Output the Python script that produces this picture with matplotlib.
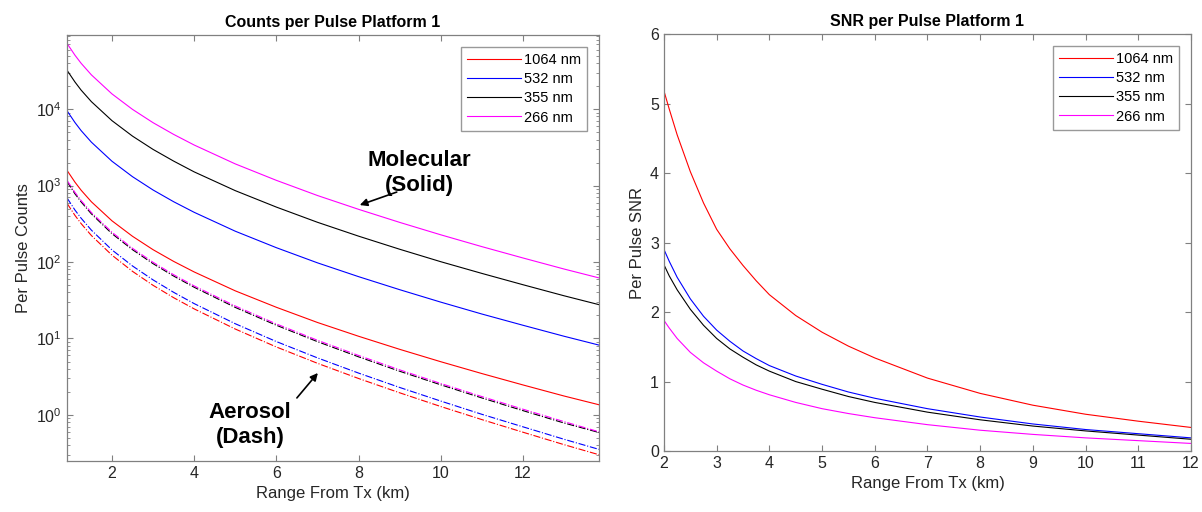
"""Counts and SNR per pulse for Platform 1, molecular vs aerosol returns."""

import matplotlib

matplotlib.use("Agg")
import matplotlib.pyplot as plt  # noqa: E402
from matplotlib.ticker import LogLocator, NullFormatter  # noqa: E402

plt.rcParams["font.family"] = ["Liberation Sans", "DejaVu Sans"]
plt.rcParams["mathtext.fontset"] = "custom"
plt.rcParams["mathtext.rm"] = "Liberation Sans"

# --- left panel: counts per pulse vs range (km) ---
range_km = [0.905, 1.1, 1.25, 1.5, 2, 2.5, 3, 3.5, 4, 5, 6, 7, 8, 9, 10, 11, 12, 13, 13.85]

mol_266 = [72400, 50600, 39700, 28000, 15800, 9910, 6640, 4670, 3390, 1920, 1170,
           741, 489, 330, 227, 159, 113, 81, 62]
mol_355 = [32300, 22600, 17700, 12500, 7060, 4430, 2970, 2090, 1510, 858, 523,
           331, 218, 147, 101, 71, 50.5, 36.2, 27.7]
mol_532 = [9540, 6670, 5230, 3690, 2080, 1306, 875, 615, 447, 253, 154,
           97.6, 64.4, 43.5, 29.9, 20.9, 14.9, 10.7, 8.2]
mol_1064 = [1584, 1107, 869, 613, 346, 217, 145, 102, 74.2, 42.0, 25.6,
            16.2, 10.7, 7.22, 4.97, 3.48, 2.47, 1.77, 1.36]

aer_266 = [1175, 813, 636, 444, 245, 151, 99.2, 68.3, 48.7, 26.6, 15.5,
           9.48, 6.0, 3.89, 2.58, 1.74, 1.19, 0.818, 0.603]
aer_355 = [1130, 780, 611, 426, 235, 145, 95.2, 65.6, 46.8, 25.5, 14.9,
           9.1, 5.76, 3.73, 2.48, 1.67, 1.14, 0.785, 0.59]
aer_532 = [691, 478, 374, 261, 144, 88.8, 58.4, 40.2, 28.6, 15.6, 9.12,
           5.58, 3.53, 2.29, 1.52, 1.02, 0.70, 0.481, 0.355]
aer_1064 = [588, 407, 318, 222, 123, 75.5, 49.6, 34.2, 24.4, 13.3, 7.75,
            4.74, 3.0, 1.95, 1.29, 0.87, 0.595, 0.409, 0.302]

# --- right panel: SNR per pulse vs range (km) ---
snr_range_km = [2, 2.1, 2.25, 2.5, 2.75, 3, 3.25, 3.5, 3.75, 4, 4.5, 5, 5.5, 6,
                7, 8, 9, 10, 11, 12]
snr_1064 = [5.18, 4.92, 4.55, 4.02, 3.57, 3.19, 2.91, 2.67, 2.45, 2.25, 1.95, 1.71,
            1.51, 1.34, 1.05, 0.83, 0.66, 0.53, 0.43, 0.34]
snr_532 = [2.9, 2.73, 2.5, 2.19, 1.94, 1.74, 1.58, 1.44, 1.33, 1.23, 1.08, 0.96,
           0.85, 0.76, 0.61, 0.49, 0.39, 0.31, 0.25, 0.19]
snr_355 = [2.68, 2.52, 2.32, 2.04, 1.81, 1.62, 1.47, 1.35, 1.24, 1.15, 1.00, 0.89,
           0.785, 0.70, 0.56, 0.45, 0.36, 0.29, 0.23, 0.17]
snr_266 = [1.88, 1.77, 1.62, 1.42, 1.27, 1.15, 1.04, 0.95, 0.875, 0.81, 0.70, 0.61,
           0.54, 0.48, 0.38, 0.30, 0.24, 0.19, 0.15, 0.11]

labels = ["1064 nm", "532 nm", "355 nm", "266 nm"]
colors = ["#ff0000", "#0000ff", "#000000", "#ff00ff"]
AXIS_GREY = "#262626"
LW = 0.8


def style_axes(ax):
    for side in ax.spines.values():
        side.set_color("#808080")
        side.set_linewidth(0.9)
    ax.tick_params(which="both", direction="in", top=True, right=True,
                   colors="#808080", labelcolor=AXIS_GREY, labelsize=11.5)
    ax.tick_params(which="major", length=4)
    ax.tick_params(which="minor", length=2)


def add_legend(ax):
    ax.legend(loc="upper right", fontsize=10.5, handlelength=3.7, handletextpad=0.15,
              frameon=True, fancybox=False, edgecolor="#808080", borderaxespad=0.8,
              labelspacing=0.35, borderpad=0.45)


fig = plt.figure(figsize=(12.02, 5.12), dpi=100)

# left panel
ax1 = fig.add_axes([0.0557, 0.0996, 0.4426, 0.832])
mol = [mol_1064, mol_532, mol_355, mol_266]
aer = [aer_1064, aer_532, aer_355, aer_266]
for vals, c, lab in zip(mol, colors, labels):
    ax1.plot(range_km, vals, color=c, lw=LW, label=lab)
for vals, c in zip(aer, colors):
    ax1.plot(range_km, vals, color=c, lw=LW, ls="-.")
ax1.set_yscale("log")
ax1.set_xlim(0.905, 13.85)
ax1.set_ylim(0.25, 9.3e4)
ax1.set_xticks([2, 4, 6, 8, 10, 12])
ax1.yaxis.set_major_locator(LogLocator(base=10, numticks=10))
ax1.yaxis.set_minor_locator(LogLocator(base=10, subs=range(2, 10), numticks=20))
ax1.yaxis.set_minor_formatter(NullFormatter())
style_axes(ax1)
ax1.set_xlabel("Range From Tx (km)", fontsize=12, color=AXIS_GREY)
ax1.set_ylabel("Per Pulse Counts", fontsize=12, color=AXIS_GREY)
ax1.set_title("Counts per Pulse Platform 1", fontsize=11.5, fontweight="bold", pad=6)
add_legend(ax1)

arrow = dict(arrowstyle="-|>", color="black", lw=1.2, shrinkA=0, shrinkB=0,
             mutation_scale=11)
ax1.text(9.47, 1455, "Molecular\n(Solid)", ha="center", va="center",
         fontsize=16, fontweight="bold", linespacing=1.25)
ax1.annotate("", xy=(8.03, 556), xytext=(8.93, 822), arrowprops=arrow)
ax1.text(5.36, 0.74, "Aerosol\n(Dash)", ha="center", va="center",
         fontsize=16, fontweight="bold", linespacing=1.25)
ax1.annotate("", xy=(7.01, 3.54), xytext=(6.50, 1.67), arrowprops=arrow)

# right panel
ax2 = fig.add_axes([0.5524, 0.119, 0.4384, 0.8145])
snr = [snr_1064, snr_532, snr_355, snr_266]
for vals, c, lab in zip(snr, colors, labels):
    ax2.plot(snr_range_km, vals, color=c, lw=LW, label=lab)
ax2.set_xlim(2, 12)
ax2.set_ylim(0, 6)
ax2.set_xticks(range(2, 13))
style_axes(ax2)
ax2.set_xlabel("Range From Tx (km)", fontsize=12, color=AXIS_GREY)
ax2.set_ylabel("Per Pulse SNR", fontsize=12, color=AXIS_GREY)
ax2.set_title("SNR per Pulse Platform 1", fontsize=11.5, fontweight="bold", pad=6)
add_legend(ax2)

fig.savefig("out.png", dpi=100)
